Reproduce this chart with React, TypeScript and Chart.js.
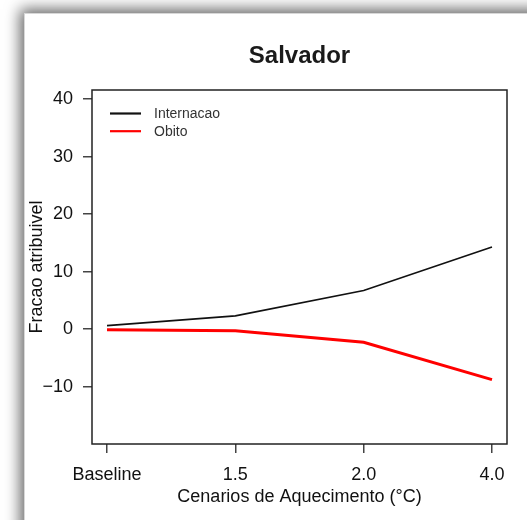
import React, { useEffect, useRef } from "react";
import { Chart, registerables } from "chart.js";

Chart.register(...registerables);

const TITLE = "Salvador";
const categories = ["Baseline", "1.5", "2.0", "4.0"];
const internacao = [0.6, 2.3, 6.7, 14.3];
const obito = [-0.1, -0.3, -2.3, -8.8];
const yTicks = [-10, 0, 10, 20, 30, 40];
const seriesNames = ["Internacao", "Obito"];
const seriesColors = ["#111111", "#ff0000"];
const seriesWidths = [1.6, 3];
const X_TITLE = "Cenarios de Aquecimento (°C)";
const Y_TITLE = "Fracao atribuivel";

const FONT = "'Liberation Sans', Arial, Helvetica, sans-serif";

export default function App() {
  const ref = useRef<HTMLCanvasElement | null>(null);

  useEffect(() => {
    const canvas = ref.current;
    if (!canvas) return;

    const overlay = {
      id: "overlay",
      afterDraw(chart: any) {
        const { ctx, chartArea } = chart;
        const { left, right, top, bottom } = chartArea;
        ctx.save();
        // box
        ctx.strokeStyle = "#222";
        ctx.lineWidth = 1.5;
        ctx.strokeRect(left, top, right - left, bottom - top);
        // title
        ctx.fillStyle = "#1a1a1a";
        ctx.font = `bold 24px ${FONT}`;
        ctx.textAlign = "center";
        ctx.textBaseline = "middle";
        ctx.fillText(TITLE, (left + right) / 2, 56);
        // legend
        ctx.font = `14px ${FONT}`;
        ctx.textAlign = "left";
        chart.data.datasets.forEach((ds: any, i: number) => {
          const y = top + 23.5 + i * 17.7;
          ctx.strokeStyle = ds.borderColor;
          ctx.lineWidth = 2.2;
          ctx.beginPath();
          ctx.moveTo(left + 18, y);
          ctx.lineTo(left + 49, y);
          ctx.stroke();
          ctx.fillStyle = "#333";
          ctx.fillText(ds.label, left + 62, y + 0.5);
        });
        ctx.restore();
      },
    };

    const chart = new Chart(canvas, {
      type: "line",
      data: {
        datasets: [internacao, obito].map((vals, s) => ({
          label: seriesNames[s],
          data: vals.map((v, i) => ({ x: i, y: v })),
          borderColor: seriesColors[s],
          backgroundColor: seriesColors[s],
          borderWidth: seriesWidths[s],
          pointRadius: 0,
          tension: 0,
          fill: false,
        })),
      },
      options: {
        animation: false,
        responsive: false,
        devicePixelRatio: 1,
        layout: { padding: { top: 90, right: 20, bottom: 0, left: 0 } },
        plugins: {
          legend: { display: false },
          title: { display: false },
          tooltip: { enabled: false },
        },
        scales: {
          x: {
            type: "linear",
            min: -0.117,
            max: categories.length - 1 + 0.117,
            afterBuildTicks: (scale: any) => {
              scale.ticks = categories.map((_, i) => ({ value: i }));
            },
            afterFit: (scale: any) => {
              scale.height = 76;
            },
            grid: {
              drawOnChartArea: false,
              drawTicks: true,
              tickLength: 9,
              color: "#444",
              lineWidth: 1.5,
            },
            border: { display: false },
            ticks: {
              autoSkip: false,
              maxRotation: 0,
              padding: 11,
              color: "#111",
              font: { family: FONT, size: 18 },
              callback: (v: any) => categories[Math.round(Number(v))] ?? "",
            },
            title: {
              display: true,
              text: X_TITLE,
              color: "#111",
              font: { family: FONT, size: 18 },
              padding: { top: 0, bottom: 12 },
            },
          },
          y: {
            type: "linear",
            min: -20,
            max: 41.6,
            afterBuildTicks: (scale: any) => {
              scale.ticks = yTicks.map((v) => ({ value: v }));
            },
            afterFit: (scale: any) => {
              scale.width = 92;
            },
            grid: {
              drawOnChartArea: false,
              drawTicks: true,
              tickLength: 9,
              color: "#444",
              lineWidth: 1.5,
            },
            border: { display: false },
            ticks: {
              padding: 10,
              color: "#111",
              font: { family: FONT, size: 18 },
              callback: (v: any) => (Number(v) < 0 ? "\u2212" + Math.abs(Number(v)) : String(v)),
            },
            title: {
              display: true,
              text: Y_TITLE,
              color: "#111",
              font: { family: FONT, size: 18 },
              padding: { top: 26, bottom: 0 },
            },
          },
        },
      },
      plugins: [overlay],
    } as any);

    return () => chart.destroy();
  }, []);

  return (
    <div
      style={{
        position: "fixed",
        left: 0,
        top: 0,
        width: 527,
        height: 520,
        overflow: "hidden",
        background: "#ffffff",
      }}
    >
      <div
        style={{
          position: "absolute",
          left: 24,
          top: 13,
          width: 560,
          height: 560,
          background: "#ffffff",
          borderLeft: "1px solid #d8d8d8",
          borderTop: "1px solid #d8d8d8",
          boxShadow: "-2px -2px 14px 2px rgba(0,0,0,0.6)",
        }}
      />
      <canvas
        ref={ref}
        width={527}
        height={520}
        style={{ position: "absolute", left: 0, top: 0, width: 527, height: 520 }}
      />
    </div>
  );
}
